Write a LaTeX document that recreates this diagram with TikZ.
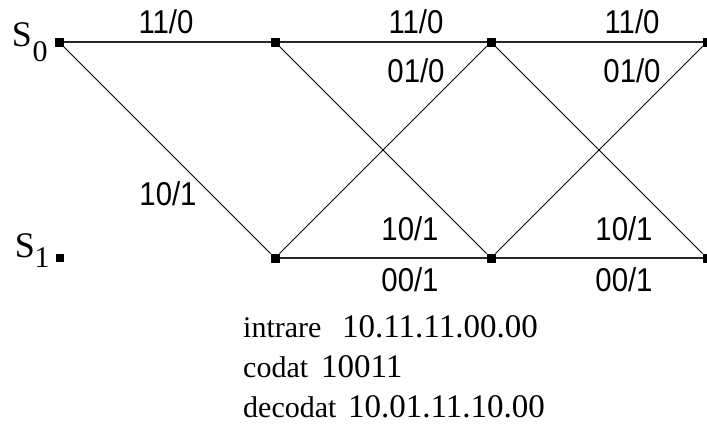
\documentclass[tikz,border=0pt]{standalone}
\usepackage{fontspec}
\usepackage{graphicx}
\setmainfont{Liberation Serif}
\newfontfamily\lblfont{Liberation Sans}
\newcommand{\narrowlbl}[1]{\scalebox{0.89}[1]{#1}}
\begin{document}
\begin{tikzpicture}[x=1pt,y=-1pt,
  sq/.style={fill=black,minimum size=9pt,inner sep=0pt,outer sep=0pt},
  hedge/.style={line width=1.7pt,draw=black!85},
  dedge/.style={line width=1pt},
  lbl/.style={font=\lblfont\fontsize{33}{35}\selectfont,inner sep=0pt},
  st/.style={font=\fontsize{36}{38}\selectfont,inner sep=0pt},
  sub/.style={font=\fontsize{30}{32}\selectfont,inner sep=0pt},
  word/.style={font=\fontsize{30}{32}\selectfont,inner sep=0pt,anchor=base west},
  num/.style={font=\fontsize{33}{35}\selectfont,inner sep=0pt,anchor=base west}]
\useasboundingbox (0,0) rectangle (707,439);
\fill[white] (0,0) rectangle (707,439);
% states
\node[sq] (a0) at (59,42) {};
\node[sq] (b0) at (275,42) {};
\node[sq] (c0) at (491,42) {};
\node[sq] (d0) at (707,42) {};
\node[sq,minimum size=8pt] (a1) at (60,258) {};
\node[sq] (b1) at (275,258) {};
\node[sq] (c1) at (491,258) {};
\node[sq] (d1) at (707,258) {};
% edges
\draw[hedge] (a0) -- (b0);
\draw[hedge] (b0) -- (c0);
\draw[hedge] (c0) -- (d0);
\draw[hedge] (b1) -- (c1);
\draw[hedge] (c1) -- (d1);
\draw[dedge] (a0) -- (b1);
\draw[dedge] (b0) -- (c1);
\draw[dedge] (b1) -- (c0);
\draw[dedge] (c0) -- (d1);
\draw[dedge] (c1) -- (d0);
% state labels
\node[st] (s0) at (22,35) {S};
\node[sub] (s0i) at (40,52) {0};
\node[st] (s1) at (25,246) {S};
\node[sub] (s1i) at (42,258) {1};
% edge labels
\node[lbl] (l1) at (166,22) {\narrowlbl{11/0}};
\node[lbl] (l2) at (416,22) {\narrowlbl{11/0}};
\node[lbl] (l3) at (632,22) {\narrowlbl{11/0}};
\node[lbl] (l4) at (416,71) {\narrowlbl{01/0}};
\node[lbl] (l5) at (632,71) {\narrowlbl{01/0}};
\node[lbl] (l6) at (168,194) {\narrowlbl{10/1}};
\node[lbl] (l7) at (410,229) {\narrowlbl{10/1}};
\node[lbl] (l8) at (624,229) {\narrowlbl{10/1}};
\node[lbl] (l9) at (410,280) {\narrowlbl{00/1}};
\node[lbl] (l10) at (624,280) {\narrowlbl{00/1}};
% text
\node[word] (t1) at (243,337) {intrare};
\node[num] (t1b) at (342,337) {10.11.11.00.00};
\node[word] (t2) at (243,377) {codat};
\node[num] (t2b) at (321,377) {10011};
\node[word] (t3) at (243,417) {decodat};
\node[num] (t3b) at (348,417) {10.01.11.10.00};
\end{tikzpicture}
\end{document}
